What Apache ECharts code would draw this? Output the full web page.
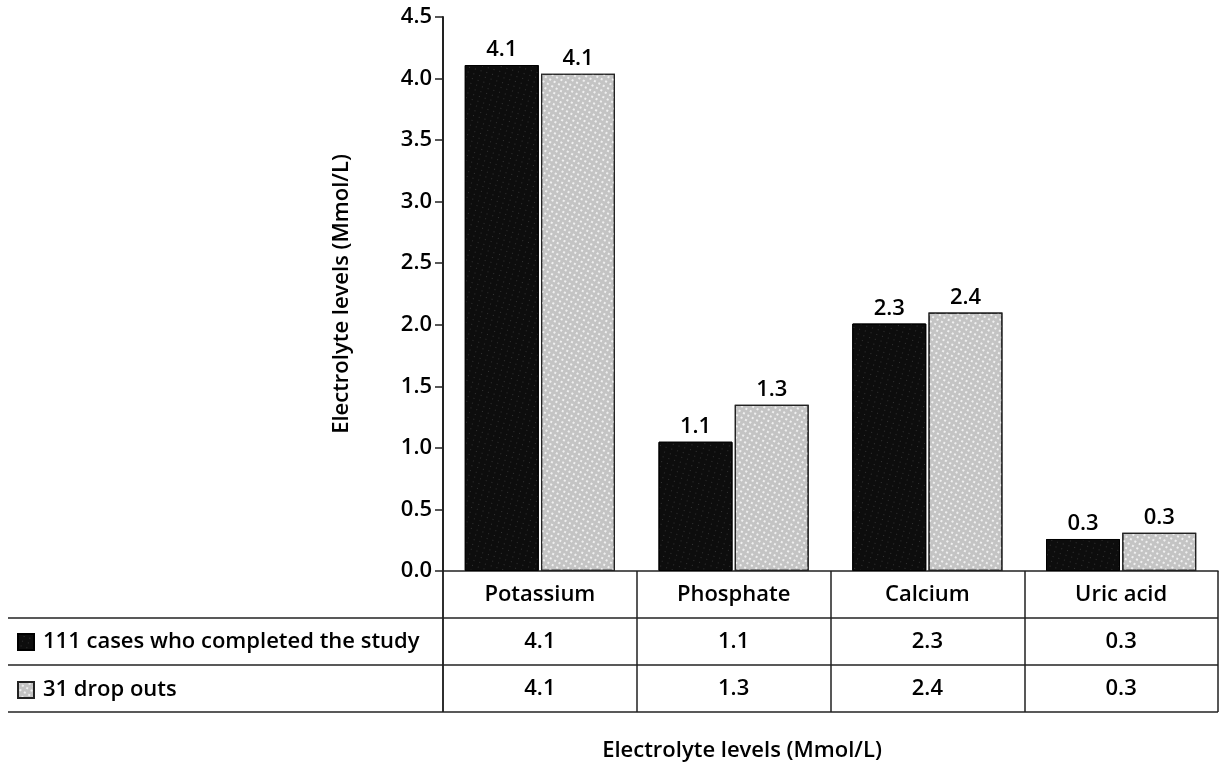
<!DOCTYPE html>
<html>
<head>
<meta charset="utf-8">
<script src="https://cdn.jsdelivr.net/npm/echarts@6/dist/echarts.min.js"></script>
<style>html,body{margin:0;padding:0;background:#fff}#c{width:1219px;height:765px}</style>
</head>
<body>
<div id="c"></div>
<script>
var categories = ['Potassium', 'Phosphate', 'Calcium', 'Uric acid'];
var seriesNames = ['111 cases who completed the study', '31 drop outs'];
// bar heights as drawn
var completedValues = [4.11, 1.05, 2.01, 0.26];
var dropoutValues = [4.04, 1.35, 2.10, 0.31];
// printed labels
var completedLabels = ['4.1', '1.1', '2.3', '0.3'];
var dropoutLabels = ['4.1', '1.3', '2.4', '0.3'];
var yTicks = ['0.0','0.5','1.0','1.5','2.0','2.5','3.0','3.5','4.0','4.5'];

var FONT = 'Open Sans';
var FS = 22;
var FW = 600;
var chart = echarts.init(document.getElementById('c'));
var gridLeft = 443, gridTop = 17, gridBottomY = 571, rowH = 47;
chart.setOption({
  animation: false,
  textStyle: {fontFamily: FONT, color: '#000', fontWeight: FW},
  title: {
    text: 'Electrolyte levels (Mmol/L)',
    left: 737, top: 735, textAlign: 'center',
    textStyle: {fontFamily: FONT, fontSize: FS, fontWeight: FW, color: '#000'}
  },
  legend: {
    orient: 'vertical', left: 12, top: 626,
    itemWidth: 16, itemHeight: 16, itemGap: 26,
    selectedMode: false, icon: 'rect',
    textStyle: {fontFamily: FONT, fontSize: FS, fontWeight: FW, color: '#000', lineHeight: 22, padding: [0,0,0,4]},
    data: seriesNames
  },
  grid: {left: gridLeft, right: 1, top: gridTop, bottom: 765 - gridBottomY},
  xAxis: {
    type: 'category', data: categories,
    axisLine: {lineStyle: {color: '#222', width: 1.5}},
    axisTick: {show: true, length: 141, lineStyle: {color: '#222', width: 1.5}},
    axisLabel: {
      interval: 0, margin: 0,
      formatter: function (v, i) {
        return '{a|' + v + '}\n{b|' + completedLabels[i] + '}\n{b|' + dropoutLabels[i] + '}';
      },
      rich: {
        a: {fontFamily: FONT, fontSize: FS, fontWeight: FW, lineHeight: rowH, color: '#000'},
        b: {fontFamily: FONT, fontSize: FS, fontWeight: FW, lineHeight: rowH, color: '#000'}
      }
    }
  },
  yAxis: {
    type: 'value', min: 0, max: 4.5, interval: 0.5,
    name: 'Electrolyte levels (Mmol/L)', nameLocation: 'middle', nameGap: 90,
    nameTextStyle: {fontFamily: FONT, fontSize: FS, fontWeight: FW, color: '#000'},
    axisLine: {show: true, lineStyle: {color: '#222', width: 2}},
    axisTick: {show: true, length: 8, lineStyle: {color: '#222', width: 1.5}},
    splitLine: {show: false},
    axisLabel: {margin: 11, fontFamily: FONT, fontSize: FS, fontWeight: FW, color: '#000',
      formatter: function (v) { return yTicks[Math.round(v / 0.5)]; }}
  },
  series: [
    {
      name: seriesNames[0], type: 'bar', data: completedValues,
      barWidth: 74, barGap: '3%',
      itemStyle: {color: '#0d0d0d', borderColor: '#000', borderWidth: 1,
        decal: {symbol: 'rect', symbolSize: 1, color: 'rgba(90,90,90,0.5)', dashArrayX: [1, 5], dashArrayY: [1, 4], rotation: 0.3}},
      label: {show: true, position: 'top', distance: 4, fontFamily: FONT, fontSize: FS, fontWeight: FW, color: '#000',
        formatter: function (p) { return completedLabels[p.dataIndex]; }}
    },
    {
      name: seriesNames[1], type: 'bar', data: dropoutValues,
      barWidth: 74,
      itemStyle: {color: '#c4c4c4', borderColor: '#222', borderWidth: 1.2,
        decal: {symbol: 'rect', symbolSize: 1, color: 'rgba(255,255,255,0.75)', dashArrayX: [2, 3], dashArrayY: [2, 3], rotation: 0.5}},
      label: {show: true, position: 'top', distance: 4, fontFamily: FONT, fontSize: FS, fontWeight: FW, color: '#000',
        formatter: function (p) { return dropoutLabels[p.dataIndex]; }}
    }
  ],
  graphic: [0, 1, 2].map(function (k) {
    var y = gridBottomY + rowH * (k + 1);
    return {type: 'line', shape: {x1: 8, y1: y, x2: 1218, y2: y},
      style: {stroke: '#222', lineWidth: 1.5}, silent: true};
  }).concat([{type: 'line', shape: {x1: gridLeft, y1: gridBottomY, x2: gridLeft, y2: gridBottomY + 3 * rowH},
      style: {stroke: '#222', lineWidth: 1.5}, silent: true}])
});
</script>
</body>
</html>
